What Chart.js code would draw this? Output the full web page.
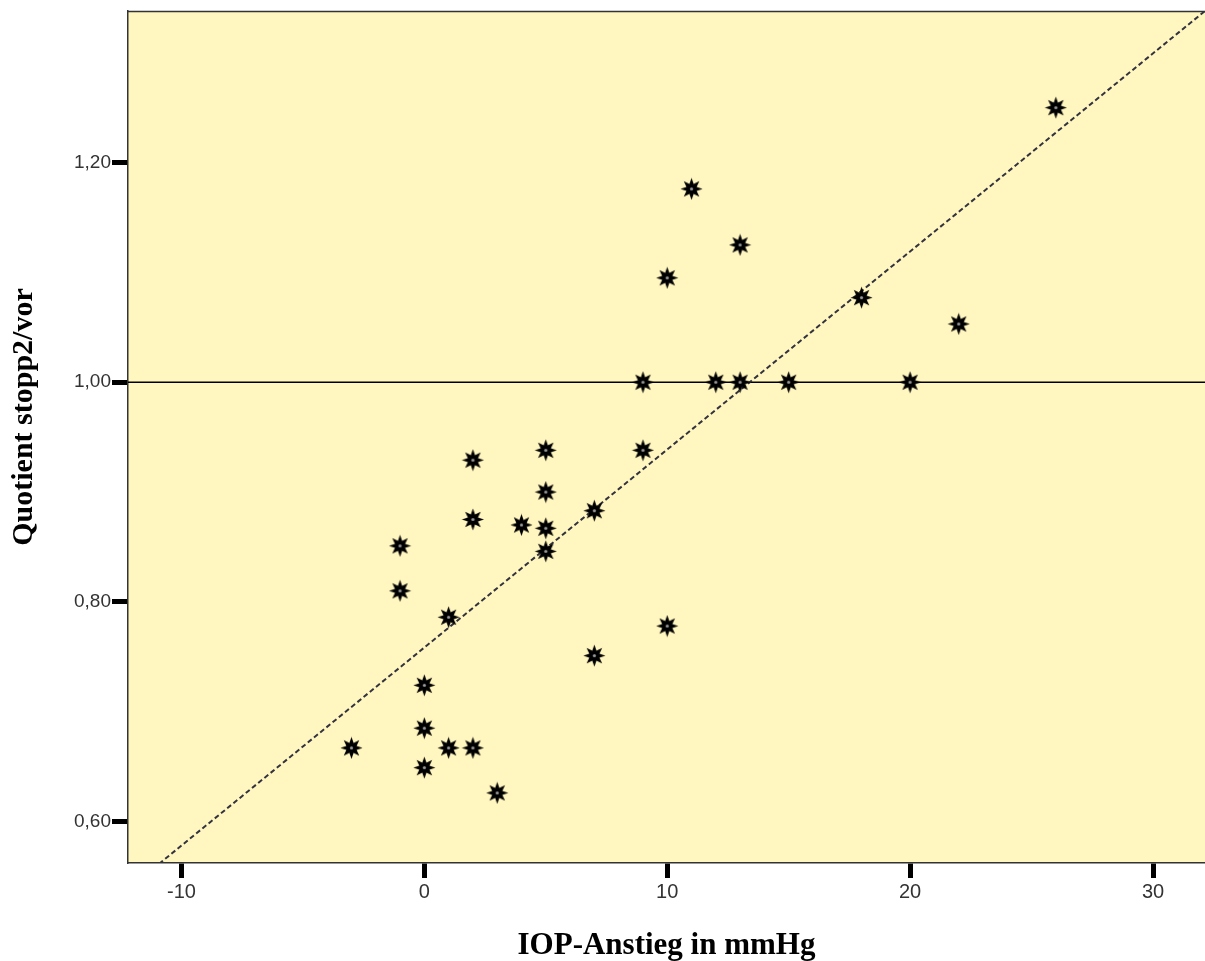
<!DOCTYPE html>
<html>
<head>
<meta charset="utf-8">
<script src="https://cdn.jsdelivr.net/npm/chart.js@4.4.1/dist/chart.umd.min.js"></script>
<style>
  html, body { margin: 0; padding: 0; background: #fff; overflow: hidden; }
  #wrap { width: 1205px; height: 961px; position: relative; }
  #chartCanvas { display: block; }
</style>
</head>
<body>
<div id="wrap"><canvas id="chartCanvas"></canvas></div>
<script>
(function() {
  'use strict';

  // IOP rise (mmHg) vs. quotient stopp2/vor
  var iopRise = [-3, -1, -1, 0, 0, 0, 1, 1, 2, 2, 2, 3, 4, 5, 5, 5, 5, 7, 7, 9, 9, 10, 10, 11, 12, 13, 13, 15, 18, 20, 22, 26];
  var quotient = [0.667, 0.851, 0.810, 0.724, 0.685, 0.649, 0.786, 0.667, 0.929, 0.875, 0.667, 0.626, 0.870, 0.938, 0.900, 0.867, 0.846, 0.883, 0.751, 1.000, 0.938, 1.095, 0.778, 1.176, 1.000, 1.125, 1.000, 1.000, 1.077, 1.000, 1.053, 1.250];

  var xTicks = [-10, 0, 10, 20, 30];
  var yTicks = [0.60, 0.80, 1.00, 1.20];

  var xMin = -12.2, xMax = 32.14;
  var yMin = 0.5622, yMax = 1.338;

  var refY = 1.0;               // solid reference line
  var fitIntercept = 0.7584;    // dashed fit line
  var fitSlope = 0.018034;

  var yTitle = 'Quotient stopp2/vor';

  function makeStar(size) {
    var c = document.createElement('canvas');
    c.width = size; c.height = size;
    var g = c.getContext('2d');
    var cx = size / 2, cy = size / 2;
    var outer = size / 2 - 0.5, inner = size * 0.24;
    g.beginPath();
    for (var i = 0; i < 16; i++) {
      var r = (i % 2 === 0) ? outer : inner;
      var a = -Math.PI / 2 + i * Math.PI / 8;
      var px = cx + r * Math.cos(a), py = cy + r * Math.sin(a);
      if (i === 0) g.moveTo(px, py); else g.lineTo(px, py);
    }
    g.closePath();
    g.fillStyle = '#000';
    g.fill();
    g.beginPath();
    g.arc(cx, cy, 1.6, 0, Math.PI * 2);
    g.fillStyle = '#9a9a9a';
    g.fill();
    return c;
  }

  var plotFrame = {
    id: 'plotFrame',
    beforeDraw: function(chart) {
      var a = chart.chartArea, ctx = chart.ctx;
      ctx.save();
      ctx.fillStyle = '#FFF6C0';
      ctx.fillRect(a.left, a.top, a.right - a.left, a.bottom - a.top);
      ctx.strokeStyle = '#333';
      ctx.lineWidth = 1.5;
      ctx.beginPath();
      ctx.moveTo(a.left, a.top + 0.5);
      ctx.lineTo(a.right, a.top + 0.5);
      ctx.stroke();
      ctx.restore();
    },
    afterDraw: function(chart) {
      // y title sits a bit above the plot centre in the original
      var a = chart.chartArea, ctx = chart.ctx;
      ctx.save();
      ctx.translate(24, (a.top + a.bottom) / 2 - 20);
      ctx.rotate(-Math.PI / 2);
      ctx.textAlign = 'center';
      ctx.textBaseline = 'middle';
      ctx.fillStyle = '#000';
      ctx.font = 'bold 30px "Liberation Serif", "Times New Roman", serif';
      ctx.fillText(yTitle, 0, 0);
      ctx.restore();
    }
  };

  function fmt(v, d) { return v.toFixed(d).replace('.', ','); }

  var star = makeStar(23);
  var points = iopRise.map(function(x, i) { return { x: x, y: quotient[i] }; });

  new Chart(document.getElementById('chartCanvas').getContext('2d'), {
    type: 'scatter',
    data: {
      datasets: [
        {
          data: points,
          pointStyle: star,
          pointRadius: 11,
          order: 0
        },
        {
          type: 'line',
          data: [{ x: xMin, y: refY }, { x: xMax, y: refY }],
          borderColor: '#000',
          borderWidth: 1.5,
          pointRadius: 0,
          order: 2
        },
        {
          type: 'line',
          data: [
            { x: xMin, y: fitIntercept + fitSlope * xMin },
            { x: xMax, y: fitIntercept + fitSlope * xMax }
          ],
          borderColor: '#333340',
          borderWidth: 2,
          borderDash: [5, 3],
          pointRadius: 0,
          order: 1
        }
      ]
    },
    options: {
      responsive: true,
      maintainAspectRatio: false,
      animation: false,
      layout: { autoPadding: false, padding: { top: 11, right: 0, left: 0, bottom: 0 } },
      plugins: { legend: { display: false }, tooltip: { enabled: false } },
      scales: {
        x: {
          type: 'linear',
          min: xMin,
          max: xMax,
          afterBuildTicks: function(s) { s.ticks = xTicks.map(function(v) { return { value: v }; }); },
          afterFit: function(s) { s.height = 98; s.paddingLeft = 0; s.paddingRight = 0; },
          ticks: {
            padding: 2,
            color: '#333',
            font: { family: 'Liberation Sans, Arial, sans-serif', size: 20 },
            callback: function(v) { return String(v); }
          },
          grid: { drawOnChartArea: false, drawTicks: true, tickLength: 15, tickWidth: 5, tickColor: '#000' },
          border: { display: true, color: '#333', width: 1.5 },
          title: {
            display: true,
            text: 'IOP-Anstieg in mmHg',
            color: '#000',
            padding: { top: 0, bottom: 0 },
            font: { family: 'Liberation Serif, Times New Roman, serif', size: 31, weight: 'bold', lineHeight: 1 }
          }
        },
        y: {
          type: 'linear',
          min: yMin,
          max: yMax,
          afterBuildTicks: function(s) { s.ticks = yTicks.map(function(v) { return { value: v }; }); },
          afterFit: function(s) { s.width = 128; s.paddingTop = 0; s.paddingBottom = 0; },
          ticks: {
            padding: 1,
            color: '#333',
            font: { family: 'Liberation Sans, Arial, sans-serif', size: 19 },
            callback: function(v) { return fmt(v, 2); }
          },
          grid: { drawOnChartArea: false, drawTicks: true, tickLength: 16, tickWidth: 5, tickColor: '#000' },
          border: { display: true, color: '#333', width: 1.5 },
          title: { display: false }
        }
      }
    },
    plugins: [plotFrame]
  });
})();
</script>
</body>
</html>
